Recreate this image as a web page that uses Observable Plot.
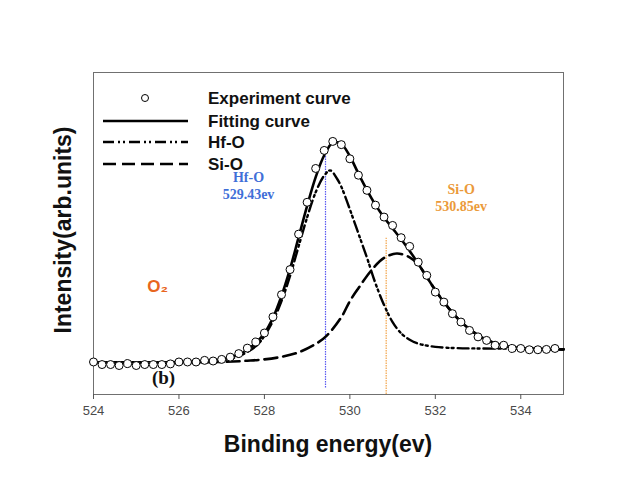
<!DOCTYPE html>
<html>
<head>
<meta charset="utf-8">
<script src="https://cdn.jsdelivr.net/npm/d3@7"></script>
<script src="https://cdn.jsdelivr.net/npm/@observablehq/plot@0.6"></script>
<style>
  body { margin: 0; background: #fff; }
  #chart { width: 620px; height: 502px; }
</style>
</head>
<body>
<div id="chart"></div>
<script>
// O 1s XPS spectrum: measured points
const expEnergy = [
  524.0, 524.2, 524.4, 524.6, 524.8, 525.0, 525.2, 525.4, 525.6, 525.8,
  526.0, 526.2, 526.4, 526.6, 526.8, 527.0, 527.2, 527.4, 527.6, 527.8,
  528.0, 528.2, 528.4, 528.6, 528.8, 529.0, 529.2, 529.4, 529.6, 529.8,
  530.0, 530.2, 530.4, 530.6, 530.8, 531.0, 531.2, 531.4, 531.6, 531.8,
  532.0, 532.2, 532.4, 532.6, 532.8, 533.0, 533.2, 533.4, 533.6, 533.8,
  534.0, 534.2, 534.4, 534.6, 534.8
];
const expIntensity = [
  0.1, -0.7, -0.7, -1.0, -0.4, -1.0, -0.7, -0.7, -0.7, -0.5,
  0.1, 0.1, 0.1, 0.6, 0.4, 0.9, 1.6, 2.7, 4.4, 6.3,
  9.1, 14.1, 21.0, 28.8, 39.8, 49.7, 60.2, 65.8, 68.6, 67.6,
  63.2, 58.1, 53.4, 48.8, 45.1, 42.5, 38.7, 36.0, 31.1, 27.0,
  21.8, 18.7, 15.1, 12.5, 9.9, 7.9, 6.8, 5.3, 5.3, 4.3,
  4.3, 3.9, 3.9, 4.0, 4.3
];

// Total fitted envelope
const fitEnergy = [
  524.0, 525.0, 526.0, 526.6, 527.0, 527.4, 527.6, 527.8, 528.0, 528.2,
  528.4, 528.6, 528.8, 529.0, 529.2, 529.4, 529.6, 529.8, 530.0, 530.2,
  530.4, 530.6, 530.8, 531.0, 531.2, 531.4, 531.6, 531.8, 532.0, 532.2,
  532.4, 532.6, 532.8, 533.0, 533.2, 533.4, 533.6, 534.0, 534.5, 535.0
];
const fitIntensity = [
  0, 0, 0.1, 0.4, 0.9, 2.4, 3.9, 6.0, 9.0, 13.8,
  20.6, 29.0, 38.8, 48.6, 57.5, 64.3, 68.2, 67.8, 64.0, 58.6,
  53.5, 48.9, 45.0, 41.6, 38.2, 34.6, 30.6, 26.5, 22.4, 18.7,
  15.4, 12.6, 10.3, 8.4, 7.0, 5.9, 5.1, 4.4, 4.1, 4.0
];

// Hf-O component
const hfoEnergy = [
  524.0, 527.0, 527.4, 527.8, 528.0, 528.2, 528.4, 528.6, 528.8, 529.0,
  529.2, 529.4, 529.54, 529.7, 529.8, 530.0, 530.2, 530.4, 530.6, 530.8,
  531.0, 531.2, 531.4, 531.6, 532.0, 532.5, 533.0, 534.0, 535.0
];
const hfoIntensity = [
  0, 0.6, 1.9, 5.0, 8.2, 12.8, 19.0, 26.8, 36.0, 45.0,
  52.8, 58.0, 59.6, 57.0, 54.5, 47.5, 40.0, 32.5, 24.5, 17.8,
  12.5, 9.0, 7.0, 5.8, 4.8, 4.4, 4.3, 4.2, 4.1
];

// Si-O component
const sioEnergy = [
  524.0, 527.0, 527.6, 528.0, 528.4, 528.8, 529.2, 529.46, 529.8, 530.0,
  530.2, 530.5, 530.8, 531.1, 531.4, 531.6, 531.8, 532.0, 532.2, 532.4,
  532.6, 532.8, 533.0, 533.2, 533.4, 533.6, 534.0, 534.5, 535.0
];
const sioIntensity = [
  0, 0.1, 0.5, 0.9, 1.7, 3.1, 5.7, 8.3, 14.0, 19.0,
  23.0, 28.5, 32.4, 33.8, 32.6, 30.4, 26.5, 22.4, 18.7, 15.4,
  12.6, 10.3, 8.4, 7.0, 5.9, 5.1, 4.4, 4.1, 4.0
];

// Peak assignments
const peakNames = ["Hf-O", "Si-O"];
const peakEnergies = [529.43, 530.85];
const peakColors = ["#3f6fd8", "#eb9a3a"];
const ruleColors = ["#5a5af0", "#f2a448"];

const xTicks = [524, 526, 528, 530, 532, 534];
const legendNames = ["Experiment curve", "Fitting curve", "Hf-O", "Si-O"];

const zip = (xs, ys) => xs.map((x, i) => ({x, y: ys[i]}));
const expData = zip(expEnergy, expIntensity);
const fitData = zip(fitEnergy, fitIntensity);
const hfoData = zip(hfoEnergy, hfoIntensity);
const sioData = zip(sioEnergy, sioIntensity);

const peakLabel = i => `${peakNames[i]}\n${peakEnergies[i].toFixed(2)}ev`;

const svg = Plot.plot({
  width: 620,
  height: 502,
  marginTop: 72,
  marginRight: 57,
  marginBottom: 108,
  marginLeft: 93,
  style: {background: "#fff", fontFamily: "'Liberation Sans', Arial, sans-serif"},
  x: {domain: [524, 535], axis: null},
  y: {domain: [-10, 90], axis: null},
  marks: [
    Plot.frame({stroke: "#707070", strokeWidth: 1}),
    Plot.axisX({ticks: xTicks, tickSize: 5, tickPadding: 6, fontSize: 13, stroke: "#555", fill: "#4a4a4a", label: null}),
    Plot.ruleX([peakEnergies[0]], {x: d => d, y1: -8, y2: 64.3, stroke: ruleColors[0], strokeWidth: 1.2, strokeDasharray: "1.5,1"}),
    Plot.ruleX([peakEnergies[1]], {x: d => d, y1: -10, y2: 38.5, stroke: ruleColors[1], strokeWidth: 1.2, strokeDasharray: "1.5,1"}),
    Plot.line(sioData, {x: "x", y: "y", curve: "catmull-rom", stroke: "#000", strokeWidth: 2.6, strokeDasharray: "13,6"}),
    Plot.line(hfoData, {x: "x", y: "y", curve: "catmull-rom", stroke: "#000", strokeWidth: 2.4, strokeDasharray: "11,4,2,3,2,4"}),
    Plot.line(fitData, {x: "x", y: "y", curve: "catmull-rom", stroke: "#000", strokeWidth: 2.6}),
    Plot.dot(expData, {x: "x", y: "y", r: 4, fill: "#fff", stroke: "#000", strokeWidth: 1}),
    Plot.text([0], {x: () => peakEnergies[0], y: 55, dx: -77, text: () => peakLabel(0),
      fill: peakColors[0], fontFamily: "'Liberation Serif', serif", fontWeight: "bold", fontSize: 14, lineHeight: 1.2}),
    Plot.text([1], {x: () => peakEnergies[1], y: 51.4, dx: 75, text: () => peakLabel(1),
      fill: peakColors[1], fontFamily: "'Liberation Serif', serif", fontWeight: "bold", fontSize: 14, lineHeight: 1.2}),
    Plot.text(["O\u2082"], {x: 525.5, y: 23.6, text: d => d, fill: "#e8661e",
      fontFamily: "'Liberation Sans', Arial, sans-serif", fontWeight: "bold", fontSize: 17}),
    Plot.text(["(b)"], {x: 525.64, y: -4.7, text: d => d, fill: "#111",
      fontFamily: "'Liberation Serif', serif", fontWeight: "bold", fontSize: 19})
  ]
});

// Axis titles and legend
const root = d3.select(svg);
root.append("text")
  .attr("x", 328).attr("y", 452)
  .attr("text-anchor", "middle")
  .attr("font-family", "'Liberation Sans', Arial, sans-serif")
  .attr("font-weight", "bold").attr("font-size", 23).attr("fill", "#111")
  .text("Binding energy(ev)");
root.append("text")
  .attr("transform", "translate(71,230) rotate(-90)")
  .attr("text-anchor", "middle")
  .attr("font-family", "'Liberation Sans', Arial, sans-serif")
  .attr("font-weight", "bold").attr("font-size", 23).attr("fill", "#111")
  .text("Intensity(arb.units)");

const legend = root.append("g")
  .attr("text-anchor", "start")
  .attr("font-family", "'Liberation Sans', Arial, sans-serif")
  .attr("font-weight", "bold").attr("font-size", 17).attr("fill", "#111");
const rowY = [98, 121, 142, 164];
legend.append("circle").attr("cx", 145).attr("cy", rowY[0]).attr("r", 3.5)
  .attr("fill", "#fff").attr("stroke", "#000");
const legendDash = [null, null, "11,4,2,3,2,4", "13,6"];
[1, 2, 3].forEach(i => {
  legend.append("line")
    .attr("x1", 103).attr("x2", 188).attr("y1", rowY[i]).attr("y2", rowY[i])
    .attr("stroke", "#000").attr("stroke-width", 2.6)
    .attr("stroke-dasharray", legendDash[i]);
});
legendNames.forEach((name, i) => {
  legend.append("text").attr("x", 208).attr("y", rowY[i]).attr("dy", "0.35em").text(name);
});

document.getElementById("chart").append(svg);
</script>
</body>
</html>
